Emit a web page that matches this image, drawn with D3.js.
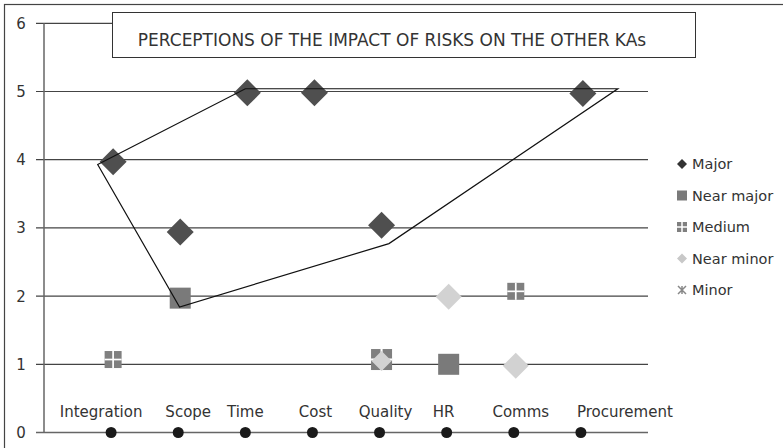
<!DOCTYPE html>
<html>
<head>
<meta charset="utf-8">
<script src="https://cdn.jsdelivr.net/npm/d3@7"></script>
<style>
  body { margin: 0; background: #fff; }
  text { font-family: "DejaVu Sans", sans-serif; fill: #333; }
</style>
</head>
<body>
<div id="chart"></div>
<script>
// ---- data ----
const categories = ["Integration", "Scope", "Time", "Cost", "Quality", "HR", "Comms", "Procurement"];
const yTicks = [0, 1, 2, 3, 4, 5, 6];
const titleText = "PERCEPTIONS OF THE IMPACT OF RISKS ON THE OTHER KAs";

// [category, value]
const majorPts = [["Integration", 3.97], ["Scope", 2.94], ["Time", 4.98], ["Cost", 4.98], ["Quality", 3.04], ["Procurement", 4.97]];
const nearMajorPts = [["Scope", 1.97], ["HR", 1.0]];
const mediumPts = [["Integration", 1.07], ["Quality", 1.07], ["Comms", 2.07]];
const nearMinorPts = [["Quality", 1.05], ["HR", 1.99], ["Comms", 0.98]];
const minorPts = [];

const legendNames = ["Major", "Near major", "Medium", "Near minor", "Minor"];

// hand-drawn outline, in category-index / value units
const outlineIdx = [0.80, 3.0, 8.55, 5.14, 2.02];
const outlineVal = [3.93, 5.04, 5.04, 2.77, 1.84];

// ---- layout ----
const W = 783, H = 448;
const labelDx = [-10, 10, 0, 3, 6, -3, 7, 44];  // nudges for category labels

const svg = d3.select("#chart").append("svg")
    .attr("width", W)
    .attr("height", H);

// outer frame
svg.append("rect")
    .attr("x", 4.5).attr("y", 4.5)
    .attr("width", 781).attr("height", 446)
    .attr("fill", "none")
    .attr("stroke", "#444")
    .attr("stroke-width", 1.2);

var x = d3.scaleLinear().domain([0, 9]).range([44, 648]);
var y = d3.scaleLinear().domain([0, 6]).range([432.5, 23.3]);
var xc = c => x(categories.indexOf(c) + 1) + 2;

// gridlines + ticks
svg.selectAll(".grid")
    .data(yTicks.filter(d => d > 0))
    .enter().append("line")
    .attr("x1", 36).attr("x2", 648)
    .attr("y1", d => y(d)).attr("y2", d => y(d))
    .attr("stroke", "#444")
    .attr("stroke-width", 1.2);

svg.selectAll(".ytl")
    .data(yTicks)
    .enter().append("text")
    .attr("x", 21)
    .attr("y", d => y(d) + 5.5)
    .attr("text-anchor", "middle")
    .style("font-size", "15px")
    .text(d => d);

// axes
svg.append("line")
    .attr("x1", 44).attr("x2", 44)
    .attr("y1", y(6)).attr("y2", y(0))
    .attr("stroke", "#666").attr("stroke-width", 1.5);
svg.append("line")
    .attr("x1", 36).attr("x2", 648)
    .attr("y1", y(0)).attr("y2", y(0))
    .attr("stroke", "#666").attr("stroke-width", 1.5);

// title box
svg.append("rect")
    .attr("x", 112.5).attr("y", 12.5)
    .attr("width", 583).attr("height", 45)
    .attr("fill", "#fff")
    .attr("stroke", "#333")
    .attr("stroke-width", 1);
svg.append("text")
    .attr("x", 392).attr("y", 45.5)
    .attr("text-anchor", "middle")
    .style("font-size", "17px")
    .text(titleText);

// category dots and labels
svg.selectAll(".catdot")
    .data(categories)
    .enter().append("circle")
    .attr("cx", (d, i) => x(i + 1))
    .attr("cy", y(0))
    .attr("r", 5.5)
    .attr("fill", "#1a1a1a");

svg.selectAll(".catlbl")
    .data(categories)
    .enter().append("text")
    .attr("x", (d, i) => x(i + 1) + labelDx[i])
    .attr("y", 417)
    .attr("text-anchor", "middle")
    .style("font-size", "15px")
    .text(d => d);

// marker helpers
function diamond(g, cx, cy, r, fill) {
    g.append("path")
        .attr("d", `M${cx},${cy - r}L${cx + r},${cy}L${cx},${cy + r}L${cx - r},${cy}Z`)
        .attr("fill", fill);
}
function square(g, cx, cy, s, fill) {
    g.append("rect")
        .attr("x", cx - s / 2).attr("y", cy - s / 2)
        .attr("width", s).attr("height", s)
        .attr("fill", fill);
}
function medium(g, cx, cy, s) {
    square(g, cx, cy, s, "#7f7f7f");
    g.append("line").attr("x1", cx).attr("x2", cx).attr("y1", cy - s / 2).attr("y2", cy + s / 2)
        .attr("stroke", "#fff").attr("stroke-width", Math.max(1.5, s / 10));
    g.append("line").attr("x1", cx - s / 2).attr("x2", cx + s / 2).attr("y1", cy).attr("y2", cy)
        .attr("stroke", "#fff").attr("stroke-width", Math.max(1.5, s / 10));
}
function minor(g, cx, cy, r) {
    g.append("path")
        .attr("d", `M${cx - r},${cy - r}L${cx + r},${cy + r}M${cx - r},${cy + r}L${cx + r},${cy - r}M${cx},${cy - r}L${cx},${cy + r}`)
        .attr("stroke", "#888").attr("stroke-width", 1.5).attr("fill", "none");
}

const marks = svg.append("g");
mediumPts.forEach(d => medium(marks, xc(d[0]), y(d[1]), d[0] === "Quality" ? 21 : 17));
nearMajorPts.forEach(d => square(marks, xc(d[0]), y(d[1]), 21, "#7a7a7a"));
majorPts.forEach(d => diamond(marks, xc(d[0]), y(d[1]), 13.5, "#4f4f4f"));
nearMinorPts.forEach(d => diamond(marks, xc(d[0]), y(d[1]), d[0] === "Quality" ? 10 : 13, "#d2d2d2"));
minorPts.forEach(d => minor(marks, xc(d[0]), y(d[1]), 5));

// outline polygon
const outline = outlineIdx.map((v, i) => [x(v), y(outlineVal[i])]);
svg.append("path")
    .attr("d", d3.line()(outline) + "Z")
    .attr("fill", "none")
    .attr("stroke", "#111")
    .attr("stroke-width", 1.2);

// legend
const lg = svg.append("g");
legendNames.forEach((name, i) => {
    const ly = 164 + i * 31.5;
    if (name === "Major") diamond(lg, 682, ly, 5, "#333");
    if (name === "Near major") square(lg, 682, ly, 10, "#7a7a7a");
    if (name === "Medium") medium(lg, 682, ly, 10);
    if (name === "Near minor") diamond(lg, 682, ly, 5, "#c8c8c8");
    if (name === "Minor") minor(lg, 682, ly, 4);
    lg.append("text")
        .attr("x", 692).attr("y", ly + 5)
        .style("font-size", "14.5px")
        .text(name);
});
</script>
</body>
</html>
